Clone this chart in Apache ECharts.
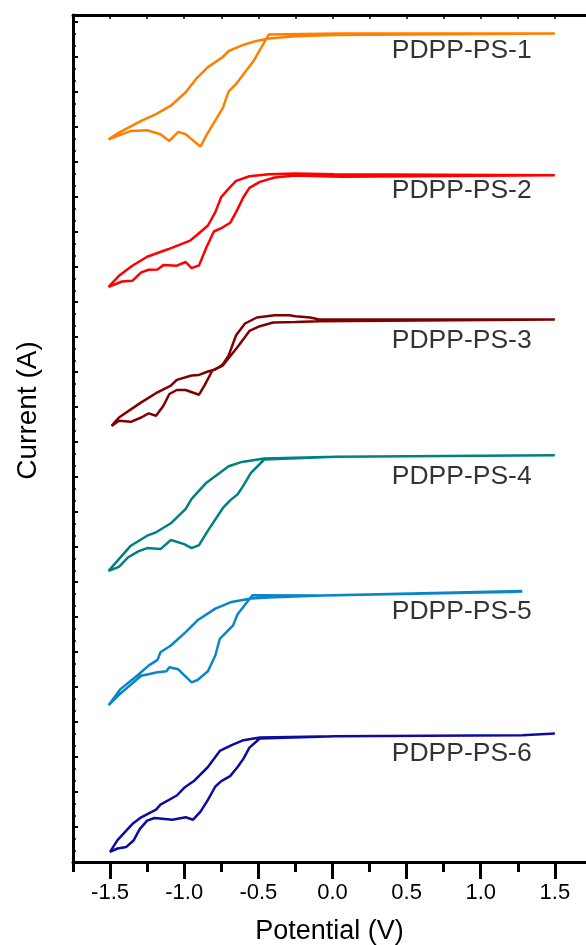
<!DOCTYPE html>
<html><head><meta charset="utf-8">
<script src="https://cdn.jsdelivr.net/npm/echarts@6/dist/echarts.min.js"></script>
<style>html,body{margin:0;padding:0;background:#fff}#c{width:586px;height:945px}</style>
</head><body><div id="c"></div><script>
// Potential (V), Current (a.u., curves stacked with offsets)
const ps1 = [[1.5,82.84],[0.04,82.84],[-0.43,82.74],[-0.53,80.16],[-0.65,77.81],[-0.70,77.07],[-0.74,75.39],[-0.85,72.68],[-0.89,71.54],[-0.99,72.78],[-1.04,73.01],[-1.10,72.11],[-1.16,72.78],[-1.25,73.18],[-1.36,73.11],[-1.51,72.27],[-1.44,72.94],[-1.29,74.12],[-1.19,74.79],[-1.09,75.63],[-0.99,76.97],[-0.92,78.31],[-0.84,79.49],[-0.74,80.50],[-0.70,81.10],[-0.61,81.67],[-0.52,82.07],[-0.43,82.34],[-0.25,82.58],[0.02,82.71],[1.5,82.84]];
const ps2 = [[1.5,68.68],[0.06,68.52],[-0.25,68.65],[-0.39,68.45],[-0.49,68.01],[-0.56,67.41],[-0.60,66.50],[-0.65,64.99],[-0.69,63.92],[-0.75,63.38],[-0.80,63.05],[-0.85,61.47],[-0.90,59.66],[-0.95,59.39],[-0.99,60.00],[-1.05,59.63],[-1.14,59.69],[-1.18,59.26],[-1.24,59.22],[-1.29,58.96],[-1.35,58.12],[-1.42,58.05],[-1.51,57.51],[-1.44,58.62],[-1.35,59.63],[-1.25,60.53],[-1.11,61.27],[-0.96,62.14],[-0.91,62.75],[-0.84,63.65],[-0.79,64.99],[-0.75,66.50],[-0.70,67.34],[-0.65,68.11],[-0.56,68.58],[-0.43,68.78],[-0.25,68.85],[0.01,68.78],[1.5,68.68]];
const ps3 = [[1.5,54.25],[-0.09,54.08],[-0.25,54.01],[-0.40,53.95],[-0.49,53.58],[-0.56,53.11],[-0.64,51.50],[-0.74,49.65],[-0.81,49.15],[-0.86,47.74],[-0.90,46.73],[-0.99,47.20],[-1.05,47.20],[-1.10,46.80],[-1.14,45.63],[-1.19,44.62],[-1.24,44.86],[-1.29,44.45],[-1.36,44.02],[-1.44,44.12],[-1.49,43.61],[-1.44,44.45],[-1.29,45.96],[-1.18,46.97],[-1.09,47.64],[-1.05,48.21],[-0.95,48.65],[-0.90,48.71],[-0.84,49.05],[-0.79,49.25],[-0.74,49.75],[-0.70,50.66],[-0.65,52.67],[-0.59,53.85],[-0.51,54.45],[-0.39,54.68],[-0.29,54.68],[-0.25,54.58],[-0.15,54.45],[-0.09,54.25],[1.5,54.25]];
const ps4 = [[1.5,40.68],[0.02,40.52],[-0.46,40.25],[-0.55,38.91],[-0.60,37.66],[-0.64,36.76],[-0.69,36.16],[-0.74,35.38],[-0.84,33.14],[-0.90,31.69],[-0.95,31.39],[-1.00,31.79],[-1.09,32.20],[-1.16,31.29],[-1.25,31.39],[-1.31,31.06],[-1.38,30.45],[-1.44,29.51],[-1.51,29.11],[-1.36,31.63],[-1.25,32.63],[-1.19,32.97],[-1.09,33.87],[-0.99,35.32],[-0.95,36.32],[-0.85,37.93],[-0.70,39.58],[-0.61,40.01],[-0.46,40.35],[0.02,40.52],[1.5,40.68]];
const ps5 = [[1.28,27.09],[-0.07,26.65],[-0.54,26.68],[-0.64,24.77],[-0.67,23.66],[-0.76,22.32],[-0.79,20.65],[-0.84,19.07],[-0.91,18.20],[-0.95,17.96],[-1.04,19.27],[-1.10,19.47],[-1.12,19.07],[-1.18,18.97],[-1.29,18.63],[-1.44,16.72],[-1.51,15.68],[-1.43,17.29],[-1.31,18.73],[-1.24,19.64],[-1.18,20.21],[-1.16,20.98],[-1.09,21.65],[-0.99,22.99],[-0.91,24.17],[-0.79,25.34],[-0.68,26.01],[-0.55,26.35],[-0.43,26.45],[-0.07,26.65],[1.28,27.02]];
const ps6 = [[1.5,12.85],[1.28,12.68],[0.02,12.58],[-0.49,12.35],[-0.56,11.44],[-0.60,10.34],[-0.64,9.50],[-0.69,8.59],[-0.75,8.09],[-0.79,7.55],[-0.84,6.21],[-0.89,5.04],[-0.94,4.23],[-0.99,4.47],[-1.08,4.23],[-1.20,4.40],[-1.25,4.13],[-1.30,3.29],[-1.34,2.18],[-1.39,1.51],[-1.45,1.35],[-1.50,1.01],[-1.45,2.18],[-1.35,3.79],[-1.29,4.47],[-1.19,5.24],[-1.16,5.74],[-1.05,6.65],[-1.00,7.42],[-0.93,8.16],[-0.84,9.50],[-0.76,11.11],[-0.68,11.68],[-0.60,12.18],[-0.49,12.45],[0.02,12.58],[1.28,12.68],[1.5,12.85]];

const seriesNames = ['PDPP-PS-1','PDPP-PS-2','PDPP-PS-3','PDPP-PS-4','PDPP-PS-5','PDPP-PS-6'];
const seriesColors = ['#FF8000','#FF0000','#800000','#008080','#0A86C8','#0C0CA0'];
const labelV = [0.40,0.40,0.40,0.40,0.40,0.40];
const labelI = [81.1,67.1,52.1,38.5,25.0,10.8];
const majorTicks = [-1.5,-1.0,-0.5,0.0,0.5,1.0,1.5];
const minorTicks = [-1.75,-1.25,-0.75,-0.25,0.25,0.75,1.25];
const topTicks = [-1.5,-1.25,-1.0,-0.75,-0.5,-0.25,0,0.25,0.5,0.75,1.0,1.25,1.5];

const FONT = '"Liberation Sans", Arial, Helvetica, sans-serif';
const curves = [ps1, ps2, ps3, ps4, ps5, ps6];

const chart = echarts.init(document.getElementById('c'), null, {renderer: 'canvas'});
const XMIN = -1.75, XMAX = 1.71;

const series = curves.map((d, i) => ({
  name: seriesNames[i], type: 'line', data: d, xAxisIndex: 0, yAxisIndex: 0,
  showSymbol: false, symbol: 'none', smooth: false,
  lineStyle: {color: seriesColors[i], width: 2.5}, itemStyle: {color: seriesColors[i]},
  z: 3
}));
series.push({
  type: 'scatter', xAxisIndex: 0, yAxisIndex: 0, symbolSize: 0, silent: true,
  data: seriesNames.map((n, i) => [labelV[i], labelI[i], n]),
  label: {show: true, position: 'right', distance: 0, formatter: p => p.value[2],
    fontSize: 26.5, color: '#000', fontFamily: FONT},
  z: 5
});

chart.setOption({
  animation: false,
  backgroundColor: '#fff',
  grid: {left: 73, right: 0, top: 15, bottom: 83, containLabel: false, outerBoundsMode: 'none'},
  xAxis: [
    {type: 'value', position: 'bottom', min: XMIN, max: XMAX,
     axisLine: {show: true, onZero: false, lineStyle: {color: '#000', width: 3}},
     axisTick: {show: true, inside: false, length: 17, lineStyle: {color: '#000', width: 3}, customValues: majorTicks},
     axisLabel: {show: true, customValues: majorTicks, formatter: v => Number(v).toFixed(1), fontSize: 22, color: '#000', fontFamily: FONT, margin: 20},
     splitLine: {show: false},
     name: 'Potential (V)', nameLocation: 'middle', nameGap: 56,
     nameTextStyle: {fontSize: 27, color: '#000', fontFamily: FONT}},
    {type: 'value', position: 'bottom', min: XMIN, max: XMAX,
     axisLine: {show: false, onZero: false},
     axisTick: {show: true, inside: false, length: 10, lineStyle: {color: '#000', width: 3}, customValues: minorTicks},
     axisLabel: {show: false}, splitLine: {show: false}},
    {type: 'value', position: 'top', min: XMIN, max: XMAX,
     axisLine: {show: true, onZero: false, lineStyle: {color: '#000', width: 3}},
     axisTick: {show: true, inside: true, length: 4, lineStyle: {color: '#000', width: 1.5}, customValues: topTicks},
     axisLabel: {show: false}, splitLine: {show: false}}
  ],
  yAxis: [
    {type: 'value', position: 'left', min: 0, max: 84.7, interval: 3.5,
     axisLine: {show: true, onZero: false, lineStyle: {color: '#000', width: 3}},
     axisTick: {show: true, inside: true, length: 5, lineStyle: {color: '#000', width: 2}},
     minorTick: {show: true, splitNumber: 3, length: 3, lineStyle: {color: '#000', width: 1.5}},
     axisLabel: {show: false}, splitLine: {show: false},
     name: 'Current (A)', nameLocation: 'middle', nameGap: 31,
     nameTextStyle: {fontSize: 28, color: '#000', fontFamily: FONT, padding: [0, 0, 0, 56]}}
  ],
  series: series
});
</script></body></html>
